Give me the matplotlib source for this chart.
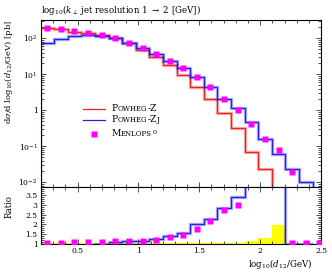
import numpy as np
import matplotlib
matplotlib.use('Agg')
import matplotlib.pyplot as plt
from matplotlib.ticker import FixedLocator, MultipleLocator, LogLocator, NullFormatter

plt.rcParams['font.family'] = ['DejaVu Serif']
plt.rcParams['mathtext.fontset'] = 'dejavuserif'

# bin edges in log10(d12/GeV)
edges = [0.19, 0.308, 0.419, 0.531, 0.643, 0.755, 0.866, 0.978, 1.090, 1.201, 1.313,
         1.425, 1.536, 1.648, 1.760, 1.872, 1.983, 2.095, 2.207, 2.318, 2.430, 2.542]

powheg_z = [190, 178, 151, 138, 123, 100, 72, 47, 29.5, 17.8, 9.8, 4.5, 2.0, 0.83,
            0.33, 0.071, 0.023, 0.0025]
powheg_zj = [72, 93, 117, 123, 117, 105, 76, 55, 36, 24, 14.5, 8.3, 4.3, 2.04, 1.15,
             0.46, 0.16, 0.062, 0.023, 0.0105]
menlops = [190, 178, 158, 138, 120, 100, 76, 55, 37, 24, 14.8, 8.5, 4.3, 2.1, 1.02,
           0.41, 0.16, 0.079, 0.0195, 0.005, 0.0025]

ratio_zj = [0.4, 0.6, 0.78, 0.9, 0.99, 1.06, 1.11, 1.16, 1.25, 1.39, 1.56, 2.0, 2.29,
            2.82, 3.42, 6.5, 6.8, 25, 1.0, 1.0]
ratio_menlops = [1.02, 1.04, 1.07, 1.09, 1.09, 1.11, 1.13, 1.16, 1.20, 1.33, 1.46, 1.77,
                 2.15, 2.73, 3.02, 5.8, 6.8, 31, 1.04, 1.04, 1.04]
ref_err = [0.01] * 12 + [0.015, 0.02, 0.04, 0.13, 0.28, 0.98]

red = '#f02020'
blue = '#2020f0'
mag = '#ff00ff'

edges = np.array(edges)
centres = 0.5 * (edges[1:] + edges[:-1])

fig = plt.figure(figsize=(3.32, 2.72), dpi=100)
ax = fig.add_axes([0.1235, 0.3107, 0.8435, 0.6158])
rax = fig.add_axes([0.1235, 0.1029, 0.8435, 0.2078], sharex=ax)

# main panel
n = len(powheg_z)
ax.stairs(powheg_z, edges[:n + 1], baseline=1e-6, color=red, lw=2.4, alpha=0.35)
ax.stairs(powheg_z, edges[:n + 1], baseline=1e-6, color=red, lw=0.9)
n = len(powheg_zj)
ax.stairs(powheg_zj, edges[:n + 1], baseline=1e-6, color=blue, lw=2.4, alpha=0.35)
ax.stairs(powheg_zj, edges[:n + 1], baseline=1e-6, color=blue, lw=0.9)
ax.plot(centres[:len(menlops)], menlops, 's', color=mag, ms=3.7, mec='none', zorder=5)

ax.set_yscale('log')
ax.set_xlim(0.2, 2.5)
ax.set_ylim(0.00718, 322)
ax.yaxis.set_major_locator(FixedLocator([1e-2, 1e-1, 1, 10, 100]))
ax.set_yticklabels([r'$10^{-2}$', r'$10^{-1}$', '1', r'$10^{1}$', r'$10^{2}$'])
ax.yaxis.set_minor_locator(LogLocator(base=10, subs=np.arange(2, 10) * 1.0, numticks=20))
ax.yaxis.set_minor_formatter(NullFormatter())
ax.tick_params(labelbottom=False)

# ratio panel
n = len(ref_err)
err = np.array(ref_err)
rax.stairs(1 + err, edges[:n + 1], baseline=1 - err, fill=True, color='#ffff00', lw=0)
rax.stairs(ratio_zj, edges[:len(ratio_zj) + 1], baseline=None, color=blue, lw=2.4, alpha=0.35)
rax.stairs(ratio_zj, edges[:len(ratio_zj) + 1], baseline=None, color=blue, lw=0.9)
rax.plot(centres[:len(ratio_menlops)], ratio_menlops, 's', color=mag, ms=3.7, mec='none',
         zorder=5, clip_on=True)
rax.set_ylim(0.98, 3.9)
rax.yaxis.set_major_locator(FixedLocator([1, 1.5, 2, 2.5, 3, 3.5]))
rax.set_yticklabels(['1', '1.5', '2', '2.5', '3', '3.5'])
rax.yaxis.set_minor_locator(MultipleLocator(0.1))
rax.xaxis.set_major_locator(FixedLocator([0.5, 1, 1.5, 2, 2.5]))
rax.set_xticklabels(['0.5', '1', '1.5', '2', '2.5'])
rax.xaxis.set_minor_locator(MultipleLocator(0.1))

for a in (ax, rax):
    a.tick_params(which='both', direction='in', top=True, right=True, labelsize=5.5,
                  width=0.6, color='#333333', pad=2.5)
    a.tick_params(which='major', length=3.6)
    a.tick_params(which='minor', length=2.2)
    for s in a.spines.values():
        s.set_linewidth(0.8)

fig.text(0.1235, 0.963, r'log$_{10}$($k_\perp$ jet resolution 1 $\rightarrow$ 2 [GeV])',
         fontsize=6.2, ha='left', va='center')
fig.text(0.026, 0.9265, r'd$\sigma$/d log$_{10}$($d_{12}$/GeV) [pb]', rotation=90,
         fontsize=6.0, ha='center', va='top')
fig.text(0.026, 0.283, 'Ratio', rotation=90, fontsize=6.2, ha='center', va='top')
fig.text(0.94, 0.03, r'log$_{10}$($d_{12}$/GeV)', fontsize=6.2, ha='right', va='center')


# legend with small caps labels
def smallcaps(x, y, parts):
    t = ax.text(x, y, parts[0], fontsize=6.6, transform=ax.transAxes, va='center', ha='left')
    for i, s in enumerate(parts[1:]):
        size = 5.0 if i % 2 == 0 else 6.6
        t = ax.annotate(s, xy=(1, 0), xycoords=t, fontsize=size, va='bottom', ha='left')


ax.plot([0.149, 0.229], [0.468, 0.468], color=red, lw=0.9, transform=ax.transAxes)
ax.plot([0.149, 0.229], [0.404, 0.404], color=blue, lw=0.9, transform=ax.transAxes)
ax.plot([0.189], [0.318], 's', color=mag, ms=3.7, mec='none', transform=ax.transAxes)
smallcaps(0.252, 0.47, ['P', 'OWHEG', '-Z'])
smallcaps(0.252, 0.406, ['P', 'OWHEG', '-Z', 'J'])
smallcaps(0.252, 0.32, ['M', 'ENLOPS', r'$^{0}$'])

fig.savefig('out.png', dpi=100)
